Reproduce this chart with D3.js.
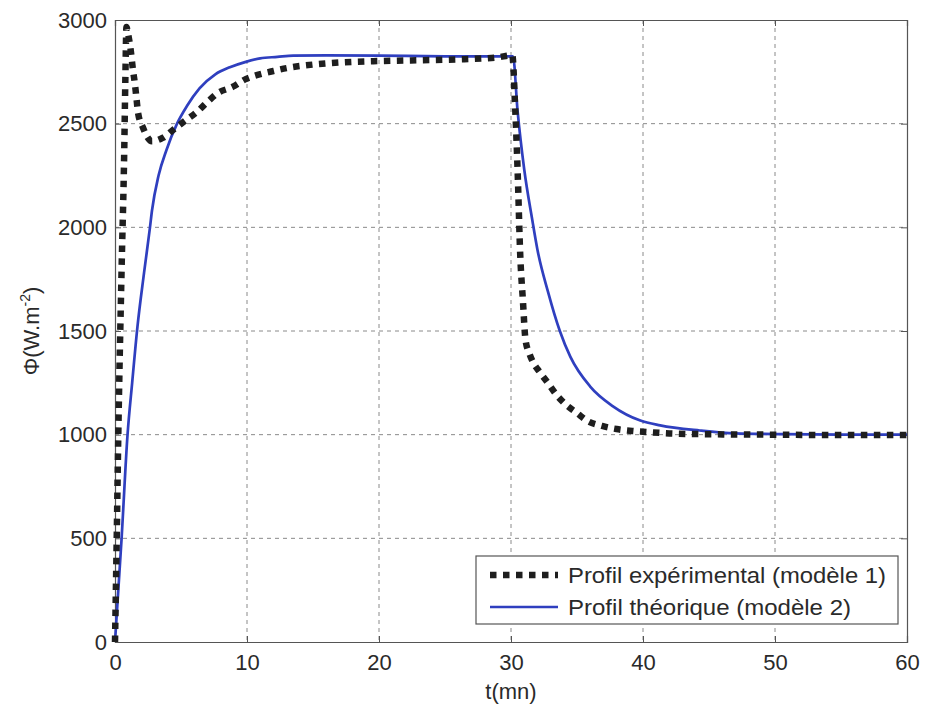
<!DOCTYPE html>
<html>
<head>
<meta charset="utf-8">
<script src="https://cdn.jsdelivr.net/npm/d3@7"></script>
<style>
  html, body { margin: 0; padding: 0; background: #fff; }
  svg { display: block; }
  text { font-family: "Liberation Sans", Arial, Helvetica, sans-serif; fill: #2a2a2a; }
</style>
</head>
<body>
<svg id="chart" width="927" height="709"></svg>
<script>
// ---- data ----
const expT = [0, 0.13, 0.25, 0.5, 0.7, 0.78, 0.87, 1.0, 1.2, 1.36, 1.5, 1.64, 1.75, 2.1, 2.8, 3.6, 4.5, 5.4, 6.2, 7.0, 7.8, 8.9, 9.9, 10.8, 12, 13, 15, 17, 20, 23, 26, 28, 29, 30.1, 30.3, 30.5, 30.7, 30.9, 31.1, 31.4, 31.7, 32.2, 32.8, 33.4, 34.1, 35, 35.8, 36.9, 38, 39.2, 40.3, 42, 45, 50, 55, 60];
const expV = [0, 500, 1000, 1800, 2370, 2700, 2966, 2930, 2850, 2759, 2696, 2614, 2551, 2484, 2415, 2431, 2475, 2518, 2556, 2604, 2648, 2677, 2715, 2735, 2754, 2768, 2785, 2795, 2802, 2806, 2810, 2815, 2820, 2830, 2600, 2276, 1866, 1649, 1457, 1390, 1346, 1300, 1249, 1196, 1148, 1104, 1066, 1042, 1027, 1018, 1013, 1006, 1002, 1000, 998, 998];

const theoT = [0, 0.5, 0.95, 1.3, 1.7, 2.2, 2.65, 2.8, 3.3, 3.9, 4.7, 5.45, 6.4, 7.6, 8.7, 9.85, 11, 12.3, 13.5, 16, 20, 25, 30, 30.15, 30.5, 31, 31.6, 32, 32.8, 33.7, 34.5, 36, 37.7, 39.8, 41.3, 44.3, 47, 50, 55, 60];
const theoV = [0, 500, 1000, 1250, 1520, 1780, 2000, 2080, 2250, 2373, 2500, 2585, 2670, 2738, 2772, 2797, 2815, 2822, 2828, 2829, 2828, 2825, 2825, 2825, 2560, 2280, 2040, 1893, 1690, 1500, 1375, 1232, 1138, 1068, 1045, 1020, 1006, 1003, 1000, 1000];

const xTicks = [0, 10, 20, 30, 40, 50, 60];
const yTicks = [0, 500, 1000, 1500, 2000, 2500, 3000];
const legendLabels = ["Profil expérimental (modèle 1)", "Profil théorique (modèle 2)"];

// ---- layout ----
const L = 115, R = 907, T = 20, B = 642;
const svg = d3.select("#chart");
const x = d3.scaleLinear().domain([0, 60]).range([L, R]);
const y = d3.scaleLinear().domain([0, 3000]).range([B, T]);
const FS = 22;

// grid
const grid = svg.append("g").attr("stroke", "#8a8a8a").attr("stroke-width", 1).attr("stroke-dasharray", "4,4");
xTicks.slice(1, -1).forEach(t => grid.append("line").attr("x1", x(t)).attr("x2", x(t)).attr("y1", T).attr("y2", B));
yTicks.slice(1, -1).forEach(t => grid.append("line").attr("x1", L).attr("x2", R).attr("y1", y(t)).attr("y2", y(t)));

// axes (box with inward ticks)
const axCol = "#555";
const xb = svg.append("g").attr("transform", `translate(0,${B})`)
  .call(d3.axisBottom(x).tickValues(xTicks).tickSize(-6).tickPadding(12).tickFormat(d3.format("d")));
const xt = svg.append("g").attr("transform", `translate(0,${T})`)
  .call(d3.axisTop(x).tickValues(xTicks).tickSize(-6).tickFormat(""));
const yl = svg.append("g").attr("transform", `translate(${L},0)`)
  .call(d3.axisLeft(y).tickValues(yTicks).tickSize(-6).tickPadding(8).tickFormat(d3.format("d")));
const yr = svg.append("g").attr("transform", `translate(${R},0)`)
  .call(d3.axisRight(y).tickValues(yTicks).tickSize(-6).tickFormat(""));
[xb, xt, yl, yr].forEach(g => {
  g.select(".domain").attr("stroke", axCol).attr("stroke-width", 1.2);
  g.selectAll(".tick line").attr("stroke", axCol);
  g.selectAll("text").attr("font-size", FS).attr("fill", "#2a2a2a")
    .style("font-family", "'Liberation Sans', Arial, sans-serif");
});
xb.selectAll("text").attr("y", 28).attr("dy", 0);

// series
const expData = expT.map((t, i) => [t, expV[i]]);
const theoData = theoT.map((t, i) => [t, theoV[i]]);
const line = d3.line().x(d => x(d[0])).y(d => y(d[1])).curve(d3.curveMonotoneX);

svg.append("path").datum(theoData).attr("d", line)
  .attr("fill", "none").attr("stroke", "#2f3fbf").attr("stroke-width", 2.7).attr("stroke-linejoin", "round");
svg.append("path").datum(expData).attr("d", line)
  .attr("fill", "none").attr("stroke", "#1e1e1e").attr("stroke-width", 6.5).attr("stroke-dasharray", "6.5,6.5");

// legend
const lg = svg.append("g");
lg.append("rect").attr("x", 476).attr("y", 556).attr("width", 422).attr("height", 68)
  .attr("fill", "#fff").attr("stroke", "#555").attr("stroke-width", 1.2);
lg.append("line").attr("x1", 490).attr("x2", 558).attr("y1", 575).attr("y2", 575)
  .attr("stroke", "#1e1e1e").attr("stroke-width", 6.5).attr("stroke-dasharray", "6.5,6.5");
lg.append("line").attr("x1", 490).attr("x2", 558).attr("y1", 607).attr("y2", 607)
  .attr("stroke", "#2f3fbf").attr("stroke-width", 2.7);
const legW = [318, 283];
lg.selectAll("text.lab").data(legendLabels).enter().append("text")
  .attr("class", "lab").attr("x", 568).attr("y", (d, i) => 583 + i * 32)
  .attr("font-size", FS).attr("textLength", (d, i) => legW[i]).attr("lengthAdjust", "spacingAndGlyphs")
  .text(d => d);

// axis labels
svg.append("text").attr("x", (L + R) / 2).attr("y", 699).attr("text-anchor", "middle")
  .attr("font-size", FS).text("t(mn)");
const yLab = svg.append("text").attr("transform", `translate(39,${(T + B) / 2}) rotate(-90)`)
  .attr("text-anchor", "middle").attr("font-size", FS);
yLab.append("tspan").text("Φ(W.m");
yLab.append("tspan").attr("font-size", 14).attr("dy", -9).text("-2");
yLab.append("tspan").attr("dy", 9).text(")");
</script>
</body>
</html>
